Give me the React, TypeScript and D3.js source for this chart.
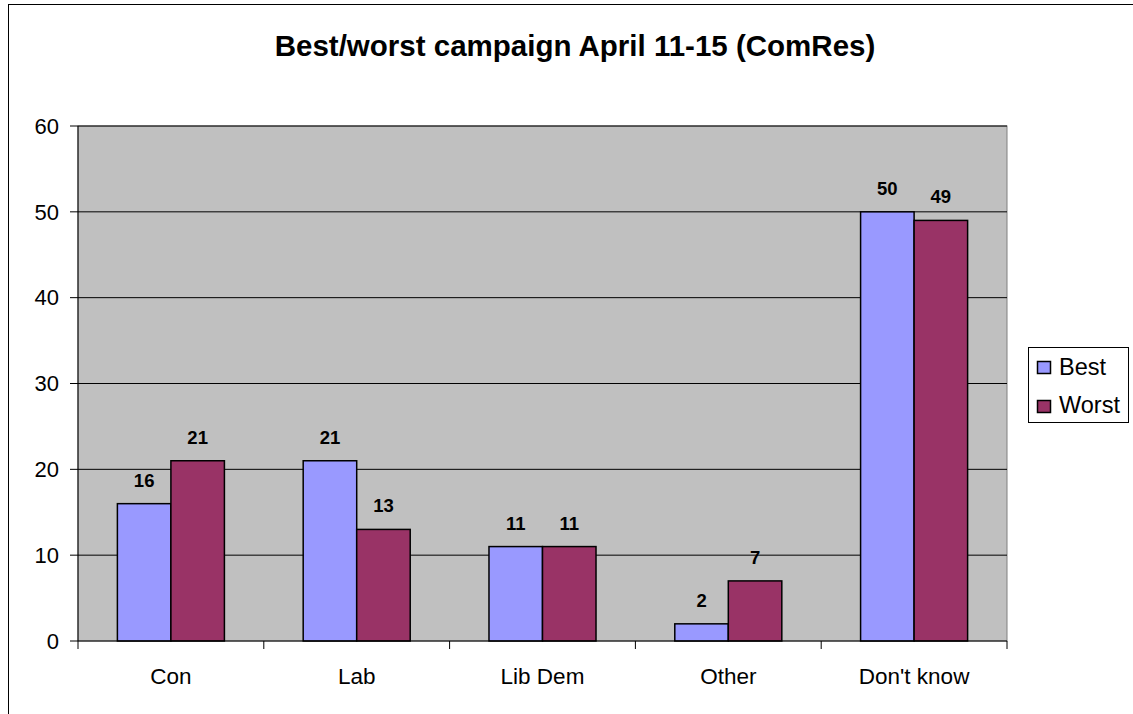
import React from "react";
import * as d3 from "d3";

const categories = ["Con", "Lab", "Lib Dem", "Other", "Don't know"];
const bestValues = [16, 21, 11, 2, 50];
const worstValues = [21, 13, 11, 7, 49];
const seriesNames = ["Best", "Worst"];
const yTicks = [0, 10, 20, 30, 40, 50, 60];
const title = "Best/worst campaign April 11-15 (ComRes)";

const W = 1133;
const H = 714;
const plot = { left: 78, right: 1007, top: 126, bottom: 641 };
const colors = ["#9999FF", "#993366"];
const font = "'Liberation Sans', Arial, sans-serif";

export default function App() {
  const x0 = d3.scaleBand<string>().domain(categories).range([plot.left, plot.right]).padding(0);
  const y = d3.scaleLinear().domain([0, 60]).range([plot.bottom, plot.top]);
  const barW = x0.bandwidth() * 0.288;
  const x1 = d3.scaleBand<string>().domain(seriesNames).range([0, barW * 2]).padding(0);
  const series = [bestValues, worstValues];

  return (
    <svg width={W} height={H} style={{ position: "absolute", left: 0, top: 0 }} fontFamily={font}>
      <rect x={0} y={0} width={W} height={H} fill="#fff" />
      <rect x={8.5} y={4.5} width={W + 20} height={H + 20} fill="none" stroke="#000" strokeWidth={1} />
      <text x={575} y={56} textAnchor="middle" fontSize={29.5} fontWeight="bold">{title}</text>
      <rect x={plot.left} y={plot.top} width={plot.right - plot.left} height={plot.bottom - plot.top} fill="#C0C0C0" stroke="#808080" strokeWidth={1} />
      {yTicks.slice(1).map((t) => (
        <line key={"g" + t} x1={plot.left} x2={plot.right} y1={y(t)} y2={y(t)} stroke="#000" strokeWidth={1} />
      ))}
      <line x1={plot.left} x2={plot.left} y1={plot.top} y2={plot.bottom} stroke="#000" strokeWidth={1} />
      {yTicks.map((t) => (
        <g key={"t" + t}>
          <line x1={plot.left - 8} x2={plot.left} y1={y(t)} y2={y(t)} stroke="#000" />
          <text x={59} y={y(t)} dy="0.35em" textAnchor="end" fontSize={22}>{t}</text>
        </g>
      ))}
      {categories.map((c, i) => {
        const cx = (x0(c) as number) + x0.bandwidth() / 2;
        const gx = cx - barW;
        return (
          <g key={c}>
            {series.map((vals, s) => {
              const bx = gx + (x1(seriesNames[s]) as number);
              const v = vals[i];
              return (
                <g key={s}>
                  <rect x={bx} y={y(v)} width={x1.bandwidth()} height={y(0) - y(v)} fill={colors[s]} stroke="#000" strokeWidth={1.5} />
                  <text x={bx + x1.bandwidth() / 2} y={y(v) - 17} textAnchor="middle" fontSize={18.5} fontWeight="bold">{v}</text>
                </g>
              );
            })}
            <text x={cx} y={684} textAnchor="middle" fontSize={22.5}>{c}</text>
          </g>
        );
      })}
      <line x1={plot.left} x2={plot.right} y1={plot.bottom} y2={plot.bottom} stroke="#000" strokeWidth={1} />
      {d3.range(categories.length + 1).map((i) => {
        const xx = plot.left + i * x0.bandwidth();
        return <line key={"ct" + i} x1={xx} x2={xx} y1={plot.bottom} y2={plot.bottom + 8} stroke="#000" />;
      })}
      <rect x={1028.5} y={347.5} width={100} height={75} fill="#fff" stroke="#000" strokeWidth={1} />
      {seriesNames.map((n, s) => (
        <g key={n}>
          <rect x={1037.5} y={361.5 + s * 39} width={13} height={12} fill={colors[s]} stroke="#000" strokeWidth={1.5} />
          <text x={1059} y={375 + s * 38} fontSize={23.5}>{n}</text>
        </g>
      ))}
    </svg>
  );
}
